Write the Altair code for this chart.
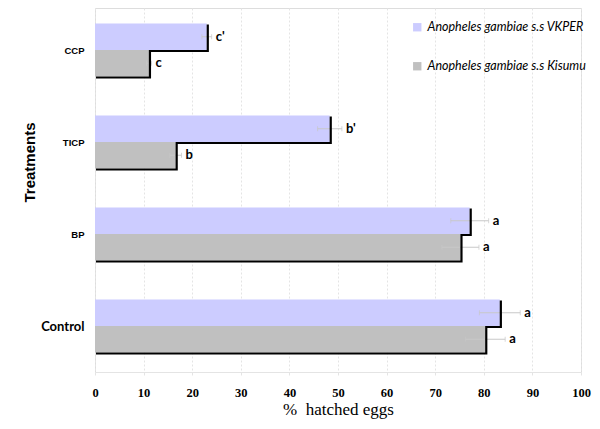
import json
import altair as alt
import pandas as pd

categories = ["Control", "BP", "TICP", "CCP"]
series_names = ["Anopheles gambiae s.s VKPER", "Anopheles gambiae s.s Kisumu"]
vkper = [83.3, 77.1, 48.3, 23.0]
kisumu = [80.3, 75.2, 16.6, 11.1]
vkper_err = [4.2, 3.9, 2.5, 1.0]
kisumu_err = [4.1, 3.8, 1.2, 0.5]
vkper_letters = ["a", "a", "b'", "c'"]
kisumu_letters = ["a", "a", "b", "c"]
colors = ["#ccccff", "#c0c0c0"]

H = 0.288  # half-group thickness in category units

bars, errs, outline = [], [], []
for i, cat in enumerate(categories):
    c = i + 0.5
    for s, vals, err, let, lo, hi in [
        (series_names[0], vkper, vkper_err, vkper_letters, c, c + H),
        (series_names[1], kisumu, kisumu_err, kisumu_letters, c - H, c),
    ]:
        v = vals[i]
        bars.append(dict(cat=cat, series=s, x0=0, x1=v, y0=lo, y1=hi))
        errs.append(dict(cat=cat, series=s, lo=v - err[i], hi=v + err[i],
                         y=(lo + hi) / 2, letter=let[i]))
    k, v = kisumu[i], vkper[i]
    pts = [(0, c - H), (k, c - H), (k, c), (v, c), (v, c + H)]
    for j, (px, py) in enumerate(pts):
        outline.append(dict(cat=cat, o=j, x=px, y=py))

bars_df = pd.DataFrame(bars)
err_df = pd.DataFrame(errs)
out_df = pd.DataFrame(outline)
caps_df = pd.concat([
    err_df[["y"]].assign(x=err_df["lo"]),
    err_df[["y"]].assign(x=err_df["hi"]),
])

ydom = [0, 364 / 92]
xscale = alt.Scale(domain=[0, 100], nice=False)
yscale = alt.Scale(domain=ydom, nice=False, zero=False)

label_expr = json.dumps(categories) + "[floor(datum.value)]"

xaxis = alt.Axis(
    values=list(range(0, 101, 10)), title="%\u00a0 hatched eggs",
    grid=True, gridColor="#e4e4e4", gridDash=[2, 2], gridWidth=1,
    domainColor="#e4e4e4", tickColor="#e4e4e4", tickSize=3,
    labelFont="Liberation Serif", labelFontWeight="bold", labelFontSize=12.5,
    labelColor="black", labelPadding=11, labelFlush=False, labelOverlap=False,
    titleFont="Liberation Serif", titleFontWeight="normal", titleFontSize=17,
    titleColor="black", titlePadding=3,
)
yaxis = alt.Axis(
    values=[0.5, 1.5, 2.5, 3.5], labelExpr=label_expr, title="Treatments",
    grid=False, domain=False, ticks=False, labelPadding=11,
    labelFont={"condition": {"test": "datum.value > 1", "value": "Liberation Sans"}, "value": "Lato"},
    labelFontSize={"condition": {"test": "datum.value > 1", "value": 9.5}, "value": 13},
    labelFontWeight="bold", labelColor="black",
    titleFont="Liberation Sans", titleFontWeight="bold", titleFontSize=15,
    titleColor="black", titleX=-58, titleY=154,
)

bar_layer = alt.Chart(bars_df).mark_bar(opacity=1).encode(
    x=alt.X("x0:Q", scale=xscale, axis=xaxis),
    x2="x1:Q",
    y=alt.Y("y0:Q", scale=yscale, axis=yaxis),
    y2="y1:Q",
    color=alt.Color("series:N", scale=alt.Scale(domain=series_names, range=colors),
                    legend=alt.Legend(title=None, orient="none", legendX=316, legendY=13,
                                      symbolType="square", symbolSize=70, symbolStrokeWidth=0,
                                      labelFont="Lato", labelFontStyle="italic",
                                      labelFontSize=12.5, labelColor="black",
                                      rowPadding=26, labelOffset=4)),
)

err_layer = alt.Chart(err_df).mark_rule(color="#c8c8c8", strokeWidth=1).encode(
    x=alt.X("lo:Q", scale=xscale), x2="hi:Q", y=alt.Y("y:Q", scale=yscale),
)
cap_layer = alt.Chart(caps_df).mark_tick(color="#c8c8c8", orient="vertical",
                                         size=5, thickness=1).encode(
    x=alt.X("x:Q", scale=xscale), y=alt.Y("y:Q", scale=yscale),
)
line_layer = alt.Chart(out_df).mark_line(color="black", strokeWidth=2.2,
                                         xOffset=1, yOffset=1).encode(
    x=alt.X("x:Q", scale=xscale), y=alt.Y("y:Q", scale=yscale),
    detail="cat:N", order="o:Q",
)
text_layer = alt.Chart(err_df).mark_text(align="left", baseline="middle", dx=4,
                                         font="Lato", fontWeight="bold",
                                         fontSize=13, color="black").encode(
    x=alt.X("hi:Q", scale=xscale), y=alt.Y("y:Q", scale=yscale), text="letter:N",
)

chart = alt.layer(bar_layer, err_layer, cap_layer, line_layer, text_layer).properties(
    width=486, height=364,
    autosize=alt.AutoSizeParams(type="none"),
    padding={"left": 87, "top": 0, "right": 11, "bottom": 48},
).configure_view(stroke=None).configure(background="white")

chart.save("out.html", embed_options={"renderer": "svg", "actions": False})
